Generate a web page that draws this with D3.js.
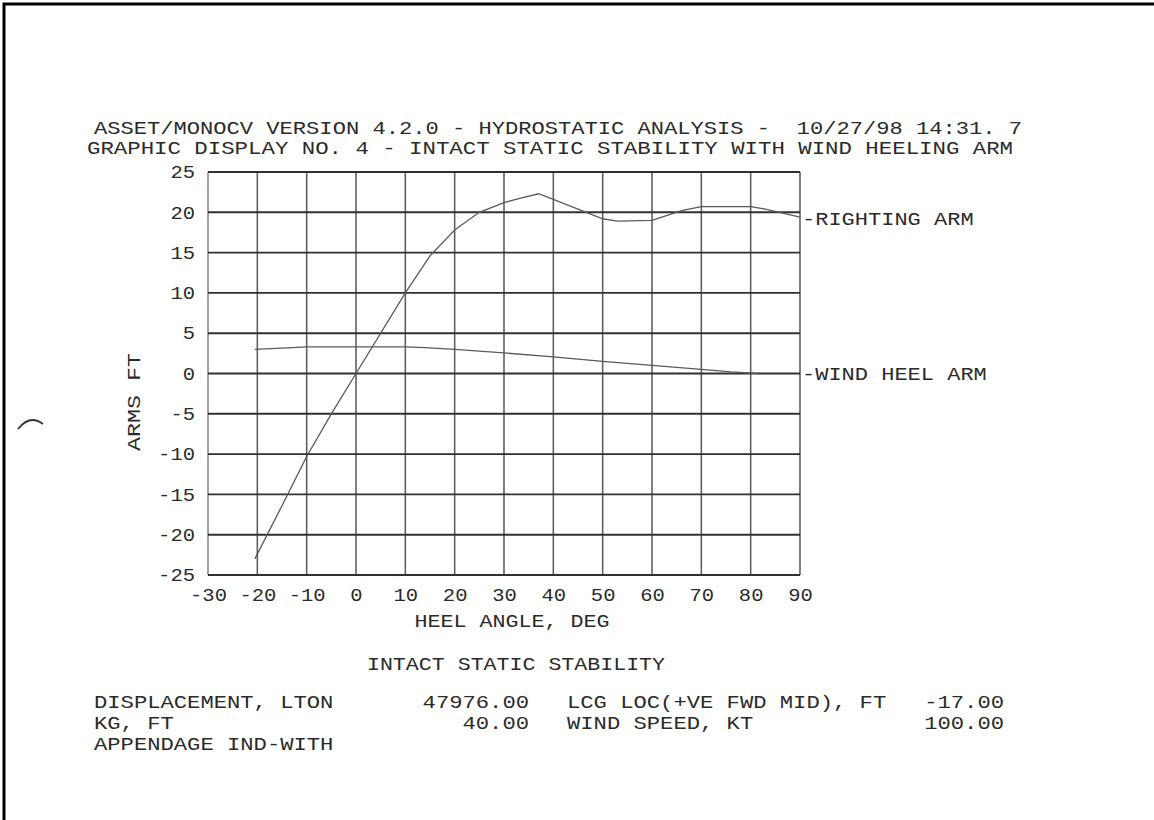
<!DOCTYPE html>
<html>
<head>
<meta charset="utf-8">
<script src="https://cdn.jsdelivr.net/npm/d3@7"></script>
<style>
  html, body { margin: 0; padding: 0; background: #fff; }
  svg text { font-family: "Liberation Mono", "Courier New", monospace; fill: #2a2a2a; white-space: pre; }
</style>
</head>
<body>
<script>
// Heel angle ticks and arm ticks
const xTicks = [-30, -20, -10, 0, 10, 20, 30, 40, 50, 60, 70, 80, 90];
const yTicks = [25, 20, 15, 10, 5, 0, -5, -10, -15, -20, -25];

// Righting arm curve (heel angle deg, arm ft)
const rightingAngle = [-20.5, -15, -10, -5, 0, 10, 15, 20, 25, 30, 33, 37, 40, 50, 53, 60, 66, 70, 80, 83, 90];
const rightingArm   = [-23.0, -16.4, -10.3, -5.0, 0.0, 10.0, 14.6, 17.8, 20.0, 21.2, 21.7, 22.3, 21.6, 19.2, 18.9, 19.0, 20.2, 20.7, 20.7, 20.4, 19.4];

// Wind heeling arm curve
const windAngle = [-20.5, -15, -10, 0, 10, 14, 20, 30, 40, 50, 60, 70, 76, 81.5];
const windArm   = [3.0, 3.15, 3.3, 3.3, 3.3, 3.2, 3.0, 2.55, 2.05, 1.5, 1.0, 0.5, 0.2, 0.0];

// Header and footer text
const titleLines = [
  "ASSET/MONOCV VERSION 4.2.0 - HYDROSTATIC ANALYSIS -  10/27/98 14:31. 7",
  "GRAPHIC DISPLAY NO. 4 - INTACT STATIC STABILITY WITH WIND HEELING ARM"
];
const footLabels = ["DISPLACEMENT, LTON", "KG, FT", "APPENDAGE IND-WITH"];
const footValues = ["47976.00", "40.00", ""];
const footLabels2 = ["LCG LOC(+VE FWD MID), FT", "WIND SPEED, KT", ""];
const footValues2 = ["-17.00", "100.00", ""];

const W = 1154, H = 820;
const svg = d3.select("body").append("svg").attr("width", W).attr("height", H);

// Fixed-pitch text helper: every character takes `pitch` pixels
function mono(parent, px, py, str, size, pitch, anchor) {
  return parent.append("text")
    .attr("x", px).attr("y", py)
    .attr("font-size", size)
    .attr("text-anchor", anchor || "start")
    .attr("textLength", str.length * pitch)
    .attr("lengthAdjust", "spacingAndGlyphs")
    .text(str);
}

// Page frame (top and left edges)
svg.append("path").attr("d", "M4,820 L4,4 L1154,4")
  .attr("fill", "none").attr("stroke", "#000").attr("stroke-width", 3);

// Small stray mark at left margin
svg.append("path").attr("d", "M18,429 Q30,414 43,424")
  .attr("fill", "none").attr("stroke", "#333").attr("stroke-width", 2);

const x = d3.scaleLinear().domain([-30, 90]).range([208, 800]);
const y = d3.scaleLinear().domain([-25, 25]).range([575, 172]);

// Titles
mono(svg, 94, 134, titleLines[0], 17.5, 928 / titleLines[0].length);
mono(svg, 87, 154, titleLines[1], 17.5, 926 / titleLines[1].length);

// Grid: vertical lines
const grid = svg.append("g");
grid.selectAll("line.v").data(xTicks).join("line")
  .attr("x1", d => x(d)).attr("x2", d => x(d))
  .attr("y1", y(25)).attr("y2", y(-25))
  .attr("stroke", d => d === -30 ? "#8a8a8a" : "#606060")
  .attr("stroke-width", 1.6);
// Grid: horizontal lines
grid.selectAll("line.h").data(yTicks).join("line")
  .attr("x1", x(-30)).attr("x2", x(90))
  .attr("y1", d => y(d)).attr("y2", d => y(d))
  .attr("stroke", "#303030")
  .attr("stroke-width", 1.9);

// Axes (labels only)
const fmt = d => d < 0 ? "-" + Math.abs(d) : String(d);
const xAxis = svg.append("g").attr("transform", `translate(0,${y(-25)})`)
  .call(d3.axisBottom(x).tickValues(xTicks).tickSize(0).tickPadding(13).tickFormat(fmt));
const yAxis = svg.append("g").attr("transform", `translate(${x(-30)},0)`)
  .call(d3.axisLeft(y).tickValues(yTicks).tickSize(0).tickPadding(13).tickFormat(fmt));
[xAxis, yAxis].forEach(a => {
  a.select(".domain").remove();
  a.selectAll("text").attr("font-size", 18)
    .attr("font-family", "Liberation Mono, Courier New, monospace")
    .attr("fill", "#2a2a2a")
    .attr("textLength", d => fmt(d).length * 12.3)
    .attr("lengthAdjust", "spacingAndGlyphs");
});
xAxis.selectAll("text").attr("dy", "0.71em");

// Curves
const line = d3.line().x(d => x(d[0])).y(d => y(d[1]));
svg.append("path")
  .datum(d3.zip(rightingAngle, rightingArm))
  .attr("d", line).attr("fill", "none")
  .attr("stroke", "#5a5a5a").attr("stroke-width", 1.3);
svg.append("path")
  .datum(d3.zip(windAngle, windArm))
  .attr("d", line).attr("fill", "none")
  .attr("stroke", "#5a5a5a").attr("stroke-width", 1.3);

// Curve labels at the right edge
mono(svg, x(90) + 2, 225, "-RIGHTING ARM", 18.5, 13.2);
mono(svg, x(90) + 2, 380, "-WIND HEEL ARM", 18.5, 13.2);

// Axis titles
mono(svg, 512, 627, "HEEL ANGLE, DEG", 18.5, 13.0, "middle");
mono(svg, 0, 0, "ARMS FT", 18.5, 14.0, "middle")
  .attr("transform", "translate(140,402) rotate(-90)");

// Footer
mono(svg, 516, 670, "INTACT STATIC STABILITY", 18.5, 12.96, "middle");
const rowY = [708, 729, 750];
footLabels.forEach((t, i) => {
  mono(svg, 94, rowY[i], t, 18, 13.3);
  if (footValues[i]) mono(svg, 529, rowY[i], footValues[i], 18, 13.3, "end");
  if (footLabels2[i]) mono(svg, 567, rowY[i], footLabels2[i], 18, 13.3);
  if (footValues2[i]) mono(svg, 1004, rowY[i], footValues2[i], 18, 13.3, "end");
});
</script>
</body>
</html>
